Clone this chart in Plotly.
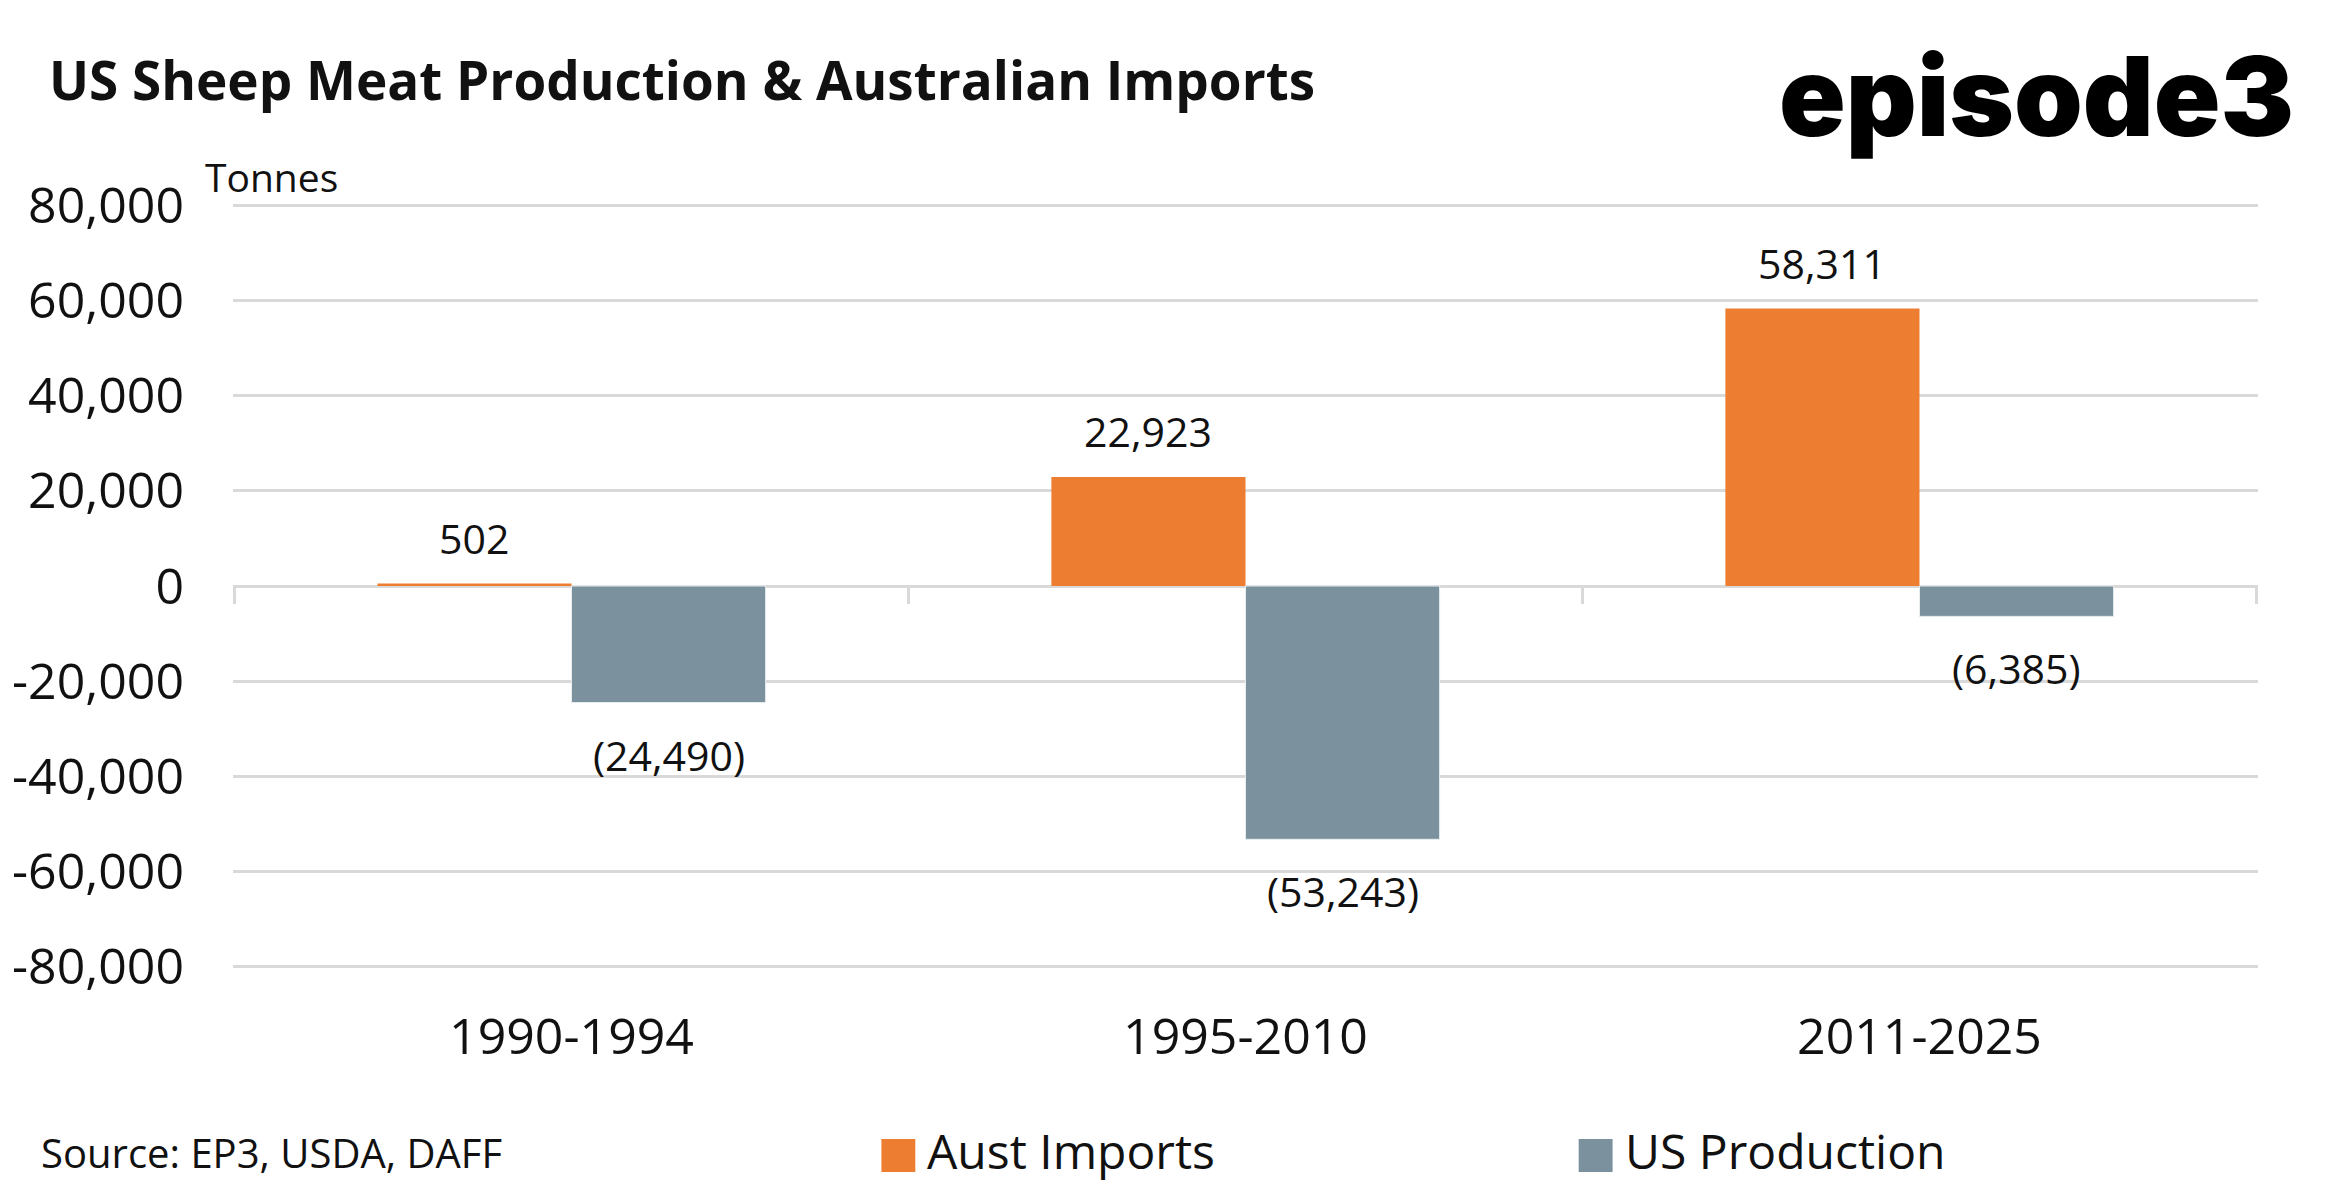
import plotly.graph_objects as go

# data (tonnes, change over each period)
periods = ["1990-1994", "1995-2010", "2011-2025"]
aust_imports = [502, 22923, 58311]
us_production = [-24490, -53243, -6385]
y_ticks = [-80000, -60000, -40000, -20000, 0, 20000, 40000, 60000, 80000]

orange = "#ED7D31"
grey = "#7B929E"
grid = "#D9D9D9"
ink = "#111111"
font = "Open Sans"

W, H = 2328, 1200
left, right, top, bottom = 228, 70, 203, 231
y_pad = 500  # a little headroom so the +/-80,000 gridlines are kept
bargap = 0.424

plot_w = W - left - right
plot_h = H - top - bottom


def xp(px):
    # page pixel -> paper x
    return (px - left) / plot_w


def yp(py):
    # page pixel -> paper y
    return (H - bottom - py) / plot_h


# bar width in px, used to place the data labels over each bar
cat_px = plot_w / len(periods)
bar_px = cat_px * (1 - bargap) / 2


def fmt(v):
    s = f"{abs(v):,}"
    return f"({s})" if v < 0 else s


fig = go.Figure()
fig.add_trace(go.Bar(x=periods, y=aust_imports, name="Aust Imports",
                     marker=dict(color=orange, line=dict(width=0))))
fig.add_trace(go.Bar(x=periods, y=us_production, name="US Production",
                     marker=dict(color=grey, line=dict(width=1, color="#E8EDF0"))))

# data labels
for i, p in enumerate(periods):
    fig.add_annotation(x=p, y=aust_imports[i], text=fmt(aust_imports[i]),
                       xshift=-bar_px / 2, yshift=46, showarrow=False,
                       font=dict(size=41, color=ink, family=font))
    fig.add_annotation(x=p, y=us_production[i], text=fmt(us_production[i]),
                       xshift=bar_px / 2, yshift=-52, showarrow=False,
                       font=dict(size=41, color=ink, family=font))

# little tick marks on the zero line between categories
for k in range(len(periods) + 1):
    fig.add_shape(type="line", xref="x", yref="y", x0=k - 0.5, x1=k - 0.5,
                  ysizemode="pixel", yanchor=0, y0=0, y1=-18,
                  line=dict(color=grid, width=3))

# title, logo, axis unit, source
fig.add_annotation(xref="paper", yref="paper", x=xp(42), y=yp(80), xanchor="left", yanchor="middle",
                   text="<b>US Sheep Meat Production & Australian Imports</b>", showarrow=False,
                   font=dict(size=53, color=ink, family=font))
fig.add_annotation(xref="paper", yref="paper", x=xp(2296), y=yp(96), xanchor="right", yanchor="middle",
                   text="episode3", showarrow=False,
                   font=dict(size=110, color="#000000", family="Inter", weight=900))
fig.add_annotation(xref="paper", yref="paper", x=xp(198), y=yp(176), xanchor="left", yanchor="middle",
                   text="Tonnes", showarrow=False, font=dict(size=39, color=ink, family=font))
fig.add_annotation(xref="paper", yref="paper", x=xp(34), y=yp(1152), xanchor="left", yanchor="middle",
                   text="Source: EP3, USDA, DAFF", showarrow=False,
                   font=dict(size=40, color=ink, family=font))

# hand-made legend so the swatches can be as big as the original
legend_items = [("Aust Imports", orange, 878), ("US Production", grey, 1577)]
for name, col, px in legend_items:
    fig.add_shape(type="rect", xref="paper", yref="paper", x0=xp(px), x1=xp(px + 34),
                  y0=yp(1139), y1=yp(1172), fillcolor=col, line=dict(width=0))
    fig.add_annotation(xref="paper", yref="paper", x=xp(px + 44), y=yp(1150),
                       xanchor="left", yanchor="middle", text=name, showarrow=False,
                       font=dict(size=48, color=ink, family=font))

fig.update_layout(
    width=W, height=H,
    margin=dict(l=left, r=right, t=top, b=bottom),
    paper_bgcolor="white", plot_bgcolor="white",
    barmode="group", bargap=bargap, bargroupgap=0,
    showlegend=False,
    font=dict(family=font, color=ink),
)
fig.update_xaxes(tickfont=dict(size=50, color=ink), showgrid=False, showline=False,
                 ticks="", ticklabelstandoff=34)
fig.update_yaxes(range=[y_ticks[0] - y_pad, y_ticks[-1] + y_pad], tickvals=y_ticks,
                 ticktext=[f"{v:,}" for v in y_ticks],
                 tickfont=dict(size=50, color=ink), showgrid=True, gridcolor=grid, gridwidth=3,
                 zeroline=True, zerolinecolor=grid, zerolinewidth=3, showline=False,
                 ticks="", ticklabelstandoff=48)

fig.write_html("out.html", config={"displayModeBar": False},
               post_script="document.body.style.margin='0';")
